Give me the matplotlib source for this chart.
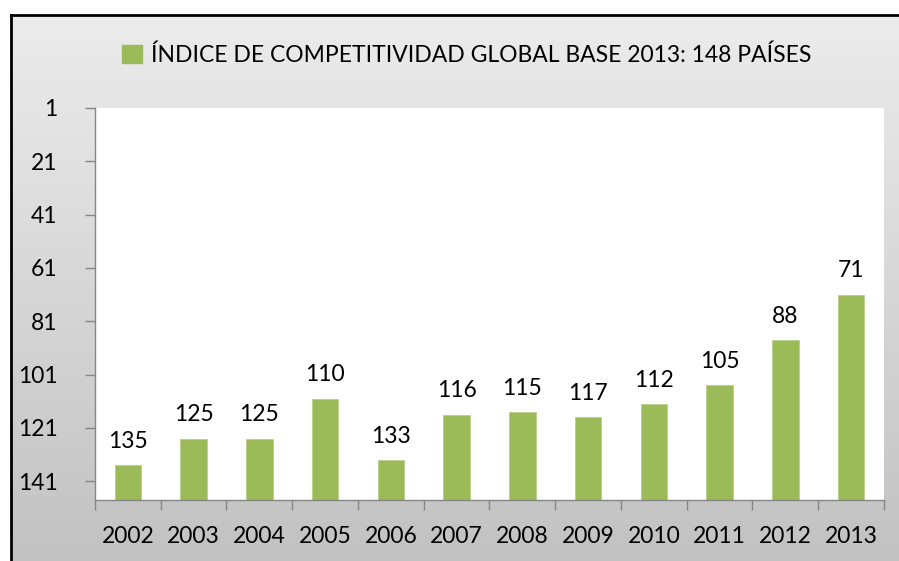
import numpy as np
import matplotlib.pyplot as plt
from matplotlib.patches import Patch
from matplotlib.colors import LinearSegmentedColormap

plt.rcParams['font.family'] = ['Lato', 'DejaVu Sans']

years = ["2002", "2003", "2004", "2005", "2006", "2007",
         "2008", "2009", "2010", "2011", "2012", "2013"]
ranks = [135, 125, 125, 110, 133, 116, 115, 117, 112, 105, 88, 71]
yticks = [1, 21, 41, 61, 81, 101, 121, 141]
n_countries = 148
label = "ÍNDICE DE COMPETITIVIDAD GLOBAL BASE 2013: 148 PAÍSES"

W, H = 899, 561
FS = 16.5
fig = plt.figure(figsize=(W / 100, H / 100), dpi=100)

# gradient chart area, black frame on top/left
bg = fig.add_axes([11 / W, 0, 1 - 11 / W, (H - 15) / H])
grad = np.linspace(0, 1, 256).reshape(-1, 1)
cmap = LinearSegmentedColormap.from_list('g', ['#ececec', '#c2c2c2'])
bg.imshow(grad, aspect='auto', cmap=cmap, extent=[0, 1, 0, 1], origin='upper')
bg.set_xlim(0, 1)
bg.set_ylim(0, 1)
bg.set_xticks([])
bg.set_yticks([])
for s in ['right', 'bottom']:
    bg.spines[s].set_visible(False)
for s in ['left', 'top']:
    bg.spines[s].set_linewidth(2)
    bg.spines[s].set_color('black')

ax = fig.add_axes([95 / W, 1 - 500 / H, (884 - 95) / W, (500 - 108) / H])
x = np.arange(len(years))
ax.bar(x, [n_countries - r for r in ranks], bottom=ranks, width=0.4,
       color='#9bbb59', edgecolor='#b7d08a', linewidth=0.6)
for xi, r in zip(x, ranks):
    ax.text(xi, r - 5, str(r), ha='center', va='bottom', fontsize=FS)

ax.set_ylim(n_countries, 1)
ax.set_xlim(-0.5, len(years) - 0.5)
ax.set_yticks(yticks)
ax.set_yticklabels([str(t) for t in yticks], fontsize=FS)
ax.set_xticks(x)
ax.set_xticklabels(years, fontsize=FS)
ax.set_xticks(np.arange(-0.5, len(years)), minor=True)
ax.tick_params(axis='x', which='major', length=0, pad=19)
ax.tick_params(axis='x', which='minor', length=7, color='#868686', width=1)
ax.tick_params(axis='y', length=7, color='#868686', width=1, pad=20)
for s in ['top', 'right']:
    ax.spines[s].set_visible(False)
for s in ['left', 'bottom']:
    ax.spines[s].set_color('#868686')
    ax.spines[s].set_linewidth(1)

fig.legend(handles=[Patch(color='#9bbb59', label=label)], loc='center',
           bbox_to_anchor=(467 / W, 1 - 55 / H), frameon=False, fontsize=FS,
           handlelength=0.85, handleheight=0.85, handletextpad=0.4)

fig.savefig('out.png', dpi=100)
